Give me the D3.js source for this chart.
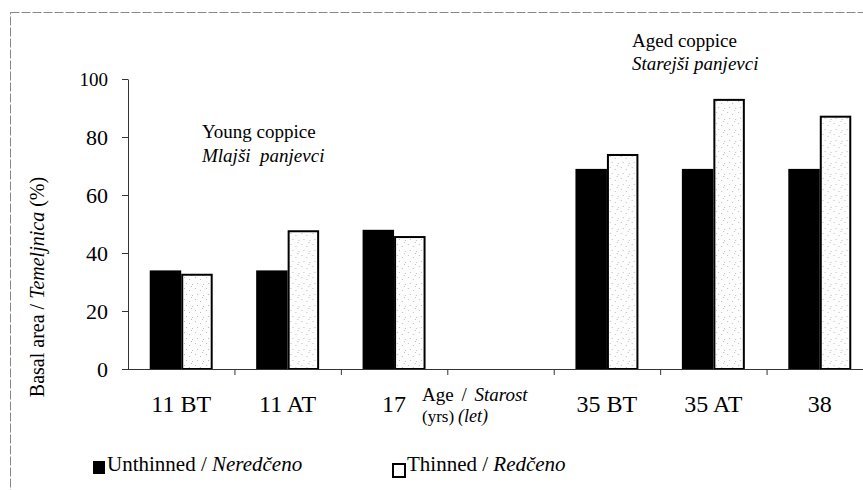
<!DOCTYPE html>
<style>
body { margin: 0; background: #fff; }
svg, svg text { font-family: "Liberation Serif", "Times New Roman", serif; }
.axis .domain, .axis line { stroke: #333; }
</style>
<svg width="863" height="490" class="chart"></svg>
<script src="https://d3js.org/d3.v7.min.js"></script>
<script>

var categories = ["11 BT", "11 AT", "17", "", "35 BT", "35 AT", "38"];
var unthinned = [34, 34, 48, null, 69, 69, 69];
var thinned = [32.5, 47.5, 45.5, null, 73.8, 92.8, 87];
var yTicks = [0, 20, 40, 60, 80, 100];

var svg = d3.select(".chart"),
    plot = {left: 128, right: 873, top: 79, bottom: 369};

// sparse stipple for the thinned bars
var pat = svg.append("defs").append("pattern")
    .attr("id", "stipple")
    .attr("width", 11).attr("height", 11)
    .attr("patternUnits", "userSpaceOnUse");
pat.append("rect").attr("width", 11).attr("height", 11).attr("fill", "#fdfdfd");
[[1, 2], [6, 4], [3, 8], [9, 9], [8, 0]].forEach(function(p) {
  pat.append("rect").attr("x", p[0]).attr("y", p[1])
      .attr("width", 1).attr("height", 1).attr("fill", "#bdbdbd");
});

// outer frame
svg.append("rect")
    .attr("x", 10.5).attr("y", 12.5)
    .attr("width", 900).attr("height", 520)
    .attr("fill", "none")
    .attr("stroke", "#888")
    .attr("stroke-dasharray", "9 2");

var x0 = d3.scaleBand()
    .domain(categories)
    .range([plot.left, plot.right]);

var x1 = d3.scaleBand()
    .domain(["unthinned", "thinned"])
    .range([0, x0.bandwidth()])
    .paddingOuter(0.69);

var y = d3.scaleLinear()
    .domain([0, 100])
    .range([plot.bottom, plot.top]);

var rows = categories.map(function(c, i) {
  return {cat: c, unthinned: unthinned[i], thinned: thinned[i]};
}).filter(function(d) { return d.unthinned != null; });

var groups = svg.append("g").selectAll("g")
  .data(rows)
  .enter().append("g")
    .attr("transform", function(d) { return "translate(" + x0(d.cat) + ",0)"; });

groups.append("rect")
    .attr("x", function(d) { return x1("unthinned"); })
    .attr("y", function(d) { return y(d.unthinned); })
    .attr("width", x1.bandwidth())
    .attr("height", function(d) { return plot.bottom - y(d.unthinned); })
    .attr("fill", "#000");

groups.append("rect")
    .attr("x", function(d) { return x1("thinned") + 1; })
    .attr("y", function(d) { return y(d.thinned); })
    .attr("width", x1.bandwidth() - 2)
    .attr("height", function(d) { return plot.bottom - y(d.thinned); })
    .attr("fill", "url(#stipple)")
    .attr("stroke", "#000")
    .attr("stroke-width", 2);

// y axis
var yAxis = svg.append("g")
    .attr("class", "axis")
    .attr("transform", "translate(" + plot.left + ",0)")
    .call(d3.axisLeft(y).tickValues(yTicks).tickSize(6).tickSizeOuter(0).tickPadding(14));
yAxis.attr("font-family", null).attr("font-size", null);
yAxis.selectAll("text")
    .style("font-family", "'Liberation Serif', serif")
    .style("font-size", function(d) { return (d == 100 ? 19 : 22) + "px"; })
    .attr("fill", "#000");

// x axis line with ticks at band edges
var xAxis = svg.append("g").attr("class", "axis");
xAxis.append("line")
    .attr("x1", plot.left - 6).attr("x2", plot.right)
    .attr("y1", plot.bottom + 0.5).attr("y2", plot.bottom + 0.5);
xAxis.selectAll(".edge")
  .data(categories.slice(1).concat(["end"]))
  .enter().append("line")
    .attr("class", "edge")
    .attr("x1", function(d) { return (d == "end" ? plot.right : x0(d)) + 0.5; })
    .attr("x2", function(d) { return (d == "end" ? plot.right : x0(d)) + 0.5; })
    .attr("y1", plot.bottom).attr("y2", plot.bottom + 6);
xAxis.selectAll(".lab")
  .data(categories)
  .enter().append("text")
    .attr("x", function(d) { return x0(d) + x0.bandwidth() / 2; })
    .attr("y", 412)
    .attr("text-anchor", "middle")
    .attr("font-size", 24)
    .text(function(d) { return d; });

// age label in the empty slot
var ageX = 422;
var age1 = svg.append("text").attr("x", ageX).attr("y", 401).attr("font-size", 19)
    .attr("word-spacing", 3);
age1.append("tspan").text("Age / ");
age1.append("tspan").attr("font-style", "italic").text("Starost");
svg.append("text").attr("x", ageX).attr("y", 422).attr("font-size", 17).text("(yrs)");
svg.append("text").attr("x", 458).attr("y", 422).attr("font-size", 18)
    .attr("font-style", "italic").text("(let)");

// y label
var yl = svg.append("text")
    .attr("transform", "translate(44,287) rotate(-90)")
    .attr("text-anchor", "middle")
    .attr("font-size", 20);
yl.append("tspan").text("Basal area / ");
yl.append("tspan").attr("font-style", "italic").text("Temeljnica");
yl.append("tspan").text(" (%)");

// group annotations
svg.append("text").attr("x", 202).attr("y", 138).attr("font-size", 19).text("Young coppice");
svg.append("text").attr("x", 202).attr("y", 162).attr("font-size", 19)
    .attr("font-style", "italic").style("white-space", "pre").text("Mlajši  panjevci");
svg.append("text").attr("x", 632).attr("y", 47).attr("font-size", 19).text("Aged coppice");
svg.append("text").attr("x", 632).attr("y", 70).attr("font-size", 19)
    .attr("font-style", "italic").text("Starejši panjevci");

// legend
var legend = [
  {x: 92, label: "Unthinned / ", it: "Neredčeno", fill: "#000", stroke: "none", dy: 0},
  {x: 392, label: "Thinned / ", it: "Redčeno", fill: "#fff", stroke: "#000", dy: 3}
];
var lg = svg.selectAll(".legend")
  .data(legend)
  .enter().append("g")
    .attr("class", "legend");
lg.append("rect")
    .attr("x", function(d) { return d.x + 1; })
    .attr("y", function(d) { return 461 + d.dy; })
    .attr("width", 12).attr("height", 13)
    .attr("fill", function(d) { return d.fill; })
    .attr("stroke", function(d) { return d.stroke; })
    .attr("stroke-width", 2);
var lt = lg.append("text")
    .attr("x", function(d) { return d.x + 15; })
    .attr("y", 471)
    .attr("font-size", 21);
lt.append("tspan").text(function(d) { return d.label; });
lt.append("tspan").attr("font-style", "italic").text(function(d) { return d.it; });

</script>
